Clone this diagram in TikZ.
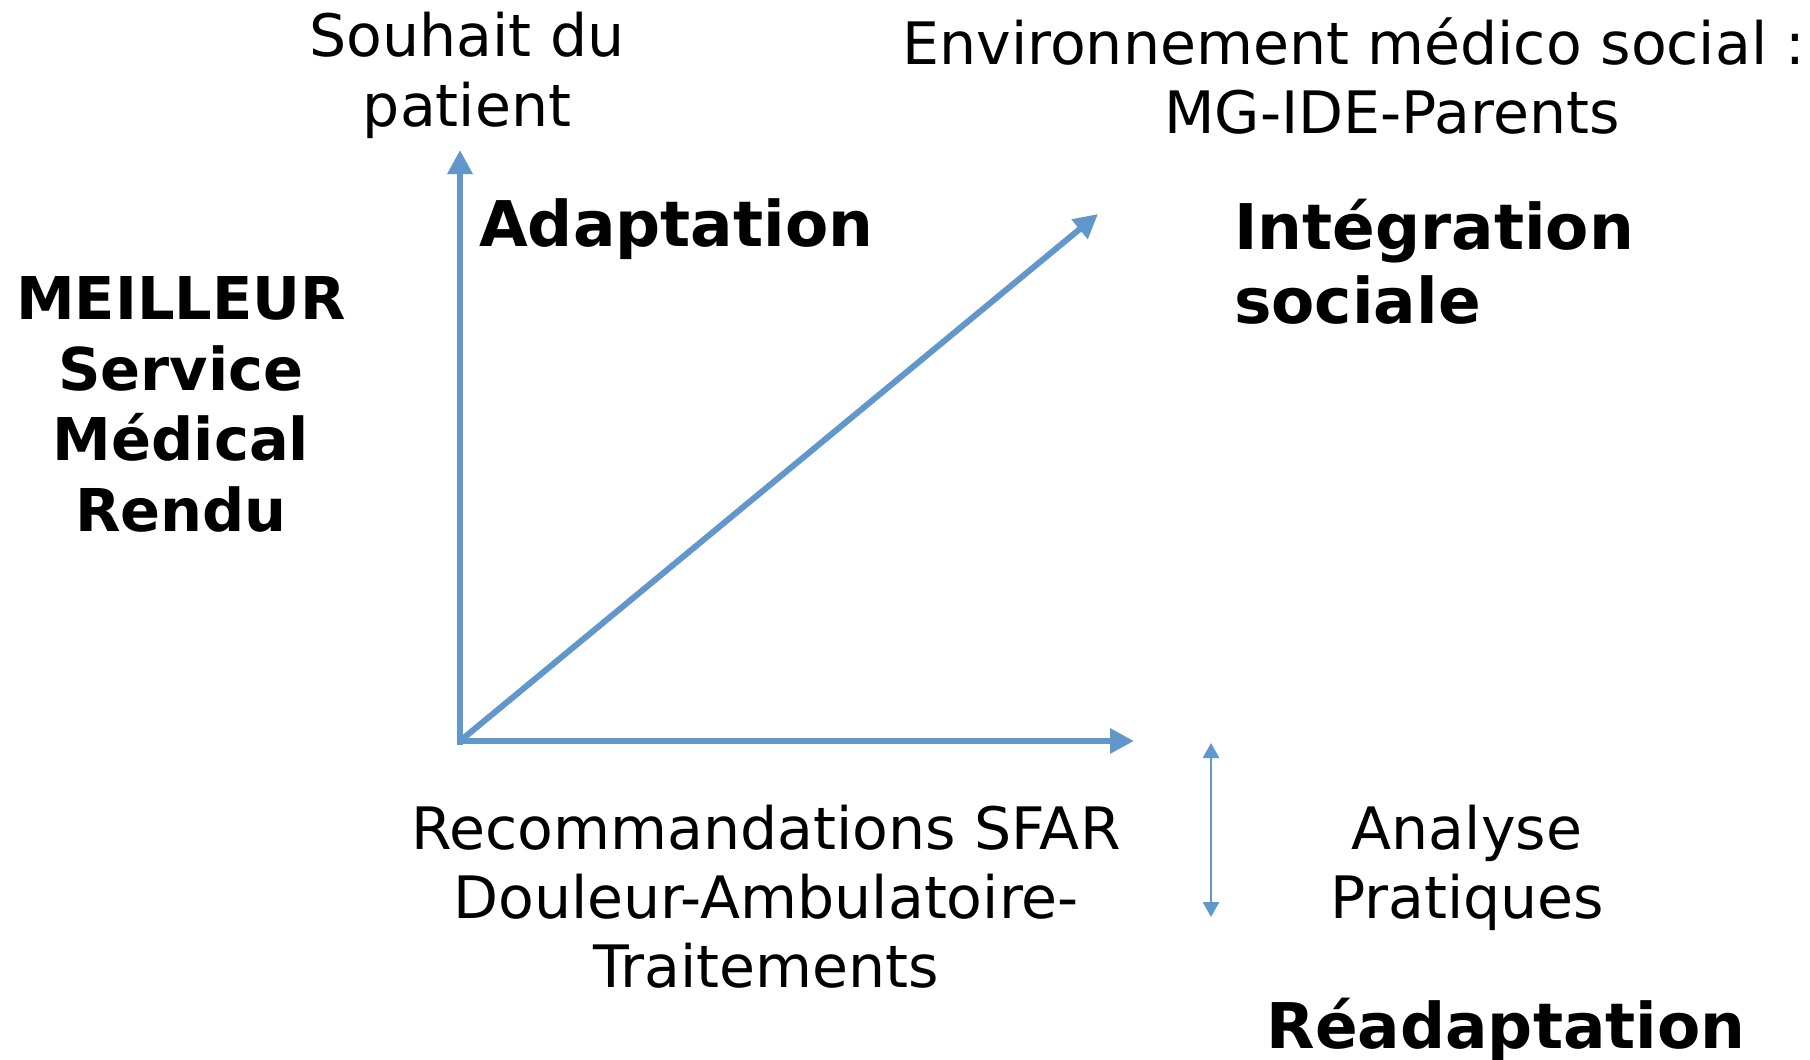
\documentclass[tikz,border=0pt]{standalone}
\usepackage{fontspec}
\setmainfont{DejaVu Sans}
\usetikzlibrary{arrows.meta}
\definecolor{axisblue}{RGB}{98,151,204}
\tikzset{
  axis/.style={draw=axisblue, line width=6pt, -{Triangle[length=24pt,width=24pt]}},
  thinaxis/.style={draw=axisblue, line width=2.6pt, {Triangle[length=15pt,width=16pt]}-{Triangle[length=15pt,width=16pt]}},
  plain/.style={inner sep=0pt, font=\fontsize{58.5}{70}\selectfont, align=center},
  heavy/.style={inner sep=0pt, font=\fontsize{63}{74}\selectfont\bfseries, align=center},
  heavyleft/.style={inner sep=0pt, font=\fontsize{63}{74}\selectfont\bfseries, align=left},
  side/.style={inner sep=0pt, font=\fontsize{59}{70.5}\selectfont\bfseries, align=center},
}
\begin{document}
\begin{tikzpicture}[x=1pt, y=-1pt]
  \useasboundingbox[fill=white] (0,0) rectangle (1810,1060);

  % axes
  \coordinate (o) at (460,741);
  \coordinate (up) at (460,150);
  \coordinate (right) at (1134,741);
  \coordinate (diag) at (1098,214);
  \coordinate (o2) at (457,741);
  \draw[axis] (o) ++(0,4) -- (up);
  \draw[axis] (o2) -- (right);
  \draw[axis] (o) -- (diag);

  % small double-headed arrow
  \coordinate (dtop) at (1211,743);
  \coordinate (dbot) at (1211,917);
  \draw[thinaxis] (dtop) -- (dbot);

  % labels (multi-line nodes are anchored on the baseline of their last line)
  \node[plain, anchor=base] (souhait) at (467,126) {Souhait du\\patient};
  \node[plain, anchor=base] (env) at (1354,64) {Environnement médico social :};
  \node[plain, anchor=base] (mg) at (1392,133) {MG-IDE-Parents};
  \node[heavy, anchor=base west] (adapt) at (479,246) {Adaptation};
  \node[heavyleft, anchor=base west] (integ) at (1234,323) {Intégration\\sociale};
  \node[side, anchor=base] (smr) at (181,531) {MEILLEUR\\Service\\Médical\\Rendu};
  \node[plain, anchor=base, font=\fontsize{58.5}{69}\selectfont] (reco) at (766,987) {Recommandations SFAR\\Douleur-Ambulatoire-\\Traitements};
  \node[plain, anchor=base, font=\fontsize{58.5}{69}\selectfont] (analyse) at (1467,918) {Analyse\\Pratiques};
  \node[heavy, anchor=base] (readapt) at (1506,1048) {Réadaptation};
\end{tikzpicture}
\end{document}
